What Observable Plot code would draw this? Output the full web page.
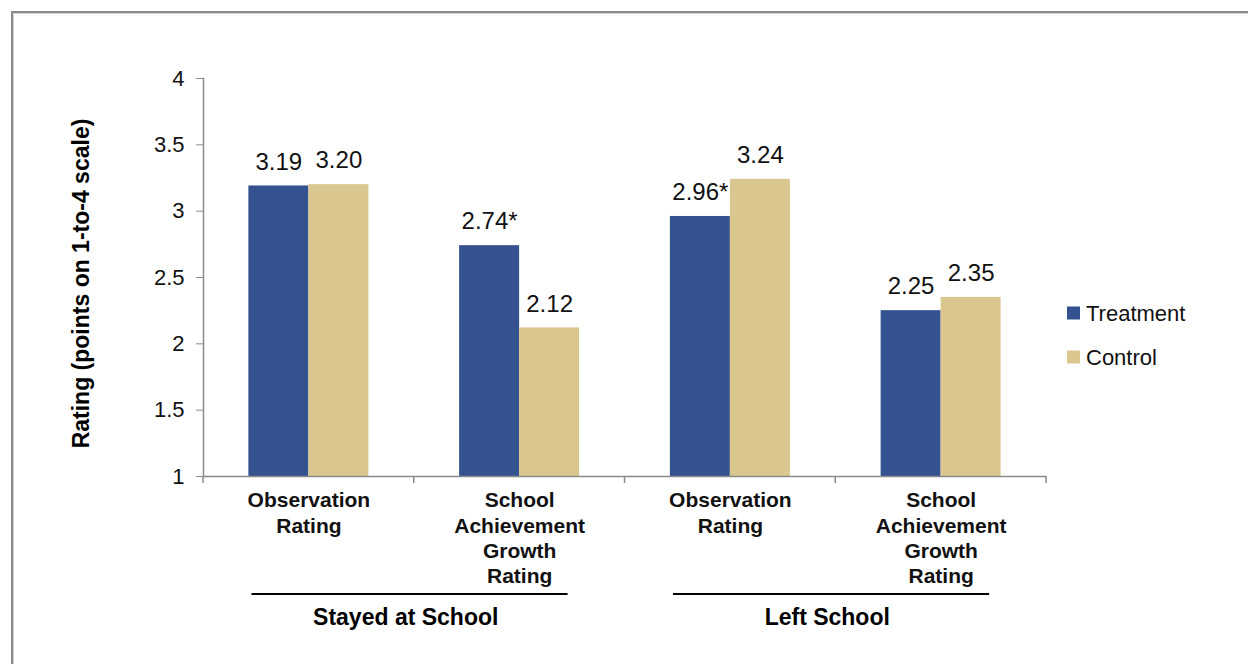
<!DOCTYPE html>
<html>
<head>
<meta charset="utf-8">
<script src="https://cdn.jsdelivr.net/npm/d3@7"></script>
<script src="https://cdn.jsdelivr.net/npm/@observablehq/plot@0.6"></script>
<style>
  body { margin: 0; background: #fff; }
  #wrap { position: relative; width: 1248px; height: 664px; overflow: hidden; background: #fff; }
  #border { position: absolute; left: 11px; top: 11px; width: 1400px; height: 800px;
            border-left: 2px solid #8a8a8a; border-top: 2px solid #8a8a8a;
            box-shadow: inset 1px 1px 0 #d6d6d6; }
  #wrap svg { position: absolute; left: 0; top: 0; }
</style>
</head>
<body>
<div id="wrap"><div id="border"></div></div>
<script>
// Rating outcomes by retention status, treatment vs control
const groups = ["Stayed at School", "Left School"];
const measures = ["Observation\nRating", "School\nAchievement\nGrowth\nRating"];
const series = ["Treatment", "Control"];
const treatment = [3.19, 2.74, 2.96, 2.25];
const control = [3.20, 2.12, 3.24, 2.35];
const treatmentFlags = ["", "*", "*", ""]; // statistically significant difference
const controlFlags = ["", "", "", ""];
const yTicks = [1, 1.5, 2, 2.5, 3, 3.5, 4];
const yTitle = "Rating (points on 1-to-4 scale)";
const colors = ["#34528f", "#dac68f"];

const font = "'Liberation Sans', Arial, sans-serif";
const axisGray = "#8a8a8a";

const panels = groups.flatMap(g => measures.map(m => ({group: g, measure: m, key: g + "|" + m})));
const rows = panels.flatMap((p, i) => [
  {...p, series: "Treatment", value: treatment[i], label: treatment[i].toFixed(2) + treatmentFlags[i]},
  {...p, series: "Control", value: control[i], label: control[i].toFixed(2) + controlFlags[i]}
]);
const measureOf = new Map(panels.map(p => [p.key, p.measure]));

const chart = Plot.plot({
  width: 1248,
  height: 664,
  marginLeft: 203,
  marginRight: 202,
  marginTop: 78,
  marginBottom: 188,
  style: {fontFamily: font, color: "#000", background: "transparent", overflow: "visible"},
  fx: {domain: panels.map(p => p.key), padding: 0, round: false, label: null},
  x: {domain: series, paddingInner: 0, paddingOuter: 0.756, round: false, axis: null},
  y: {domain: [1, 4], axis: null},
  color: {domain: series, range: colors},
  marks: [
    Plot.barY(rows, {fx: "key", x: "series", y1: 1, y2: "value", fill: "series"}),
    Plot.text(rows, {fx: "key", x: "series", y: "value", text: "label", dy: -24, fontSize: 24, fill: "#111"}),
    Plot.ruleY([1], {stroke: axisGray, strokeWidth: 1.5}),
    Plot.frame({anchor: "left", facetAnchor: "left", stroke: axisGray, strokeWidth: 1.5}),
    Plot.axisY({anchor: "left", ticks: yTicks, tickFormat: d => String(d), tickSize: 7, tickPadding: 12,
                fontSize: 22, stroke: axisGray, fill: "#111", label: null}),
    Plot.text([yTitle], {facetAnchor: "left", frameAnchor: "left", text: d => d, rotate: -90,
                         textAnchor: "middle", dx: -122, dy: 6, fontSize: 23, fontWeight: "bold", fill: "#000"}),
    Plot.axisFx({anchor: "bottom", tickSize: 0, tickPadding: 13, fontSize: 21, fontWeight: "bold",
                 lineHeight: 1.2, fill: "#111", tickFormat: k => measureOf.get(k), label: null})
  ]
});

document.getElementById("wrap").appendChild(chart);

// Category boundary ticks, group underlines and group titles, placed with the fx scale
const fx = chart.scale("fx");
const y = chart.scale("y");
const svg = d3.select(chart);
const bw = fx.bandwidth;
const y0 = y.apply(1);

const deco = svg.append("g");
const edges = fx.domain.map(k => fx.apply(k)).concat([fx.apply(fx.domain[fx.domain.length - 1]) + bw]);
deco.selectAll("line.tick").data(edges).join("line")
  .attr("class", "tick")
  .attr("x1", d => d).attr("x2", d => d)
  .attr("y1", y0).attr("y2", y0 + 7)
  .attr("stroke", axisGray).attr("stroke-width", 1.5);

groups.forEach(g => {
  const keys = panels.filter(p => p.group === g).map(p => p.key);
  const left = fx.apply(keys[0]);
  const mid = fx.apply(keys[1]);
  deco.append("line")
    .attr("x1", left + 0.23 * bw).attr("x2", mid + 0.73 * bw)
    .attr("y1", y0 + 118).attr("y2", y0 + 118)
    .attr("stroke", "#000").attr("stroke-width", 2);
  deco.append("text")
    .attr("x", mid - 8).attr("y", y0 + 141)
    .attr("text-anchor", "middle").attr("dy", "0.35em")
    .attr("font-family", font).attr("font-size", 23).attr("font-weight", "bold")
    .attr("fill", "#000")
    .text(g);
});

// Legend
const color = chart.scale("color");
const legend = svg.append("g").attr("transform", `translate(${fx.range[1] + 21}, 313)`);
color.domain.forEach((s, i) => {
  const row = legend.append("g").attr("transform", `translate(0, ${i * 44})`);
  row.append("rect").attr("x", 0).attr("y", -6.5).attr("width", 13).attr("height", 13)
    .attr("fill", color.range[i]);
  row.append("text").attr("x", 19).attr("y", 0).attr("dy", "0.35em").attr("text-anchor", "start")
    .attr("font-family", font).attr("font-size", 22).attr("fill", "#111").text(s);
});
</script>
</body>
</html>
